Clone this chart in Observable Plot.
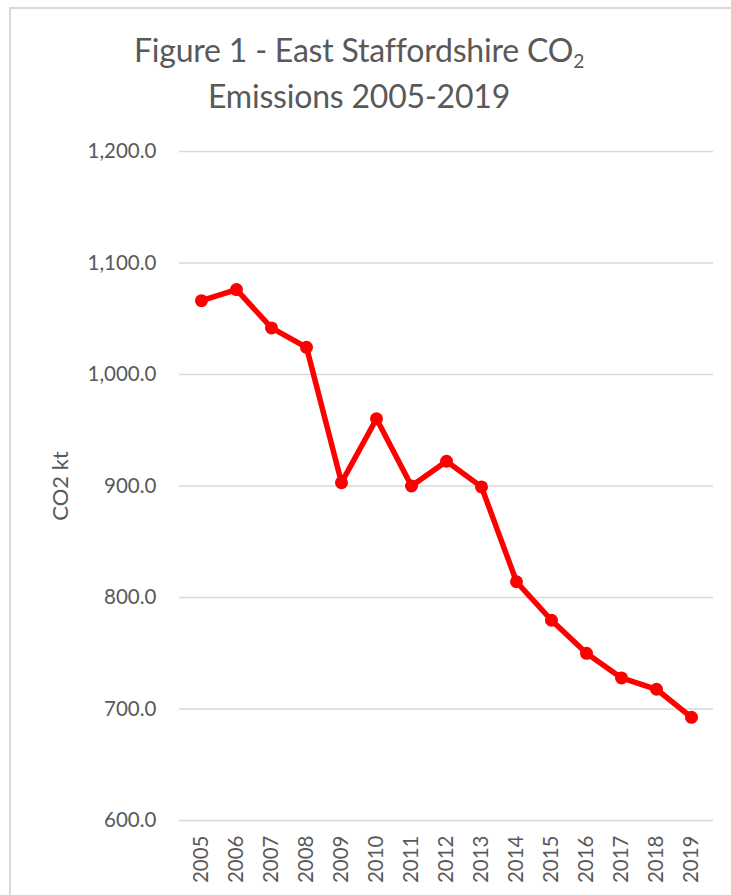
<!DOCTYPE html>
<html>
<head>
<meta charset="utf-8">
<script src="https://cdn.jsdelivr.net/npm/d3@7"></script>
<script src="https://cdn.jsdelivr.net/npm/@observablehq/plot@0.6"></script>
<style>
  html, body { margin: 0; padding: 0; background: #fff; }
  #wrap { position: relative; width: 731px; height: 895px; overflow: hidden; font-family: Lato, "Open Sans", sans-serif; background: #fff; }
  #frame { position: absolute; left: 9px; top: 7px; width: 900px; height: 1000px;
           border-top: 2px solid #d9d9d9; border-left: 2px solid #d9d9d9; }
  #title { position: absolute; left: 0; top: 27px; width: 718px; text-align: center;
           font-size: 32px; line-height: 45.5px; color: #595959; letter-spacing: -0.2px; }
  #title sub { font-size: 0.6em; vertical-align: -0.3em; line-height: 0; }
  #chart { position: absolute; left: 0; top: 120px; }
  #chart svg { background: transparent !important; }
</style>
</head>
<body>
<div id="wrap">
  <div id="frame"></div>
  <div id="title">Figure 1 - East Staffordshire CO<sub>2</sub><br>Emissions 2005-2019</div>
  <div id="chart"></div>
</div>
<script>
const years = ["2005","2006","2007","2008","2009","2010","2011","2012","2013","2014","2015","2016","2017","2018","2019"];
const co2kt = [1066.2, 1076.2, 1041.8, 1024.4, 903.0, 960.3, 900.0, 922.2, 899.2, 814.1, 779.6, 749.9, 727.9, 717.7, 692.5];
const yTicks = [600, 700, 800, 900, 1000, 1100, 1200];
const yLabel = "CO2 kt";

const data = years.map((y, i) => ({year: y, value: co2kt[i]}));
const textColor = "#595959";

const chart = Plot.plot({
  width: 731,
  height: 775,
  marginTop: 31,
  marginBottom: 75,
  marginLeft: 179,
  marginRight: 18,
  style: { fontFamily: "Lato, 'Open Sans', sans-serif", background: "transparent" },
  x: { type: "point", domain: years, padding: 0.5 },
  y: { domain: [600, 1200] },
  marks: [
    Plot.gridY(yTicks, { stroke: "#d9d9d9", strokeOpacity: 1, strokeWidth: 1.5 }),
    Plot.axisY(yTicks, {
      tickSize: 0, tickPadding: 23, fontSize: 20.5, fill: textColor,
      tickFormat: d3.format(",.1f"), label: null
    }),
    Plot.axisX({
      tickSize: 0, tickPadding: 15, tickRotate: -90, fontSize: 20.5, fill: textColor, label: null
    }),
    Plot.text([yLabel], {
      text: d => d, frameAnchor: "left", dx: -119, rotate: -90,
      fontSize: 22, fill: textColor, textAnchor: "middle"
    }),
    Plot.line(data, { x: "year", y: "value", stroke: "#ff0000", strokeWidth: 5.5, strokeLinejoin: "round" }),
    Plot.dot(data, { x: "year", y: "value", r: 6.5, fill: "#ff0000", stroke: "none" })
  ]
});
document.getElementById("chart").appendChild(chart);
</script>
</body>
</html>
